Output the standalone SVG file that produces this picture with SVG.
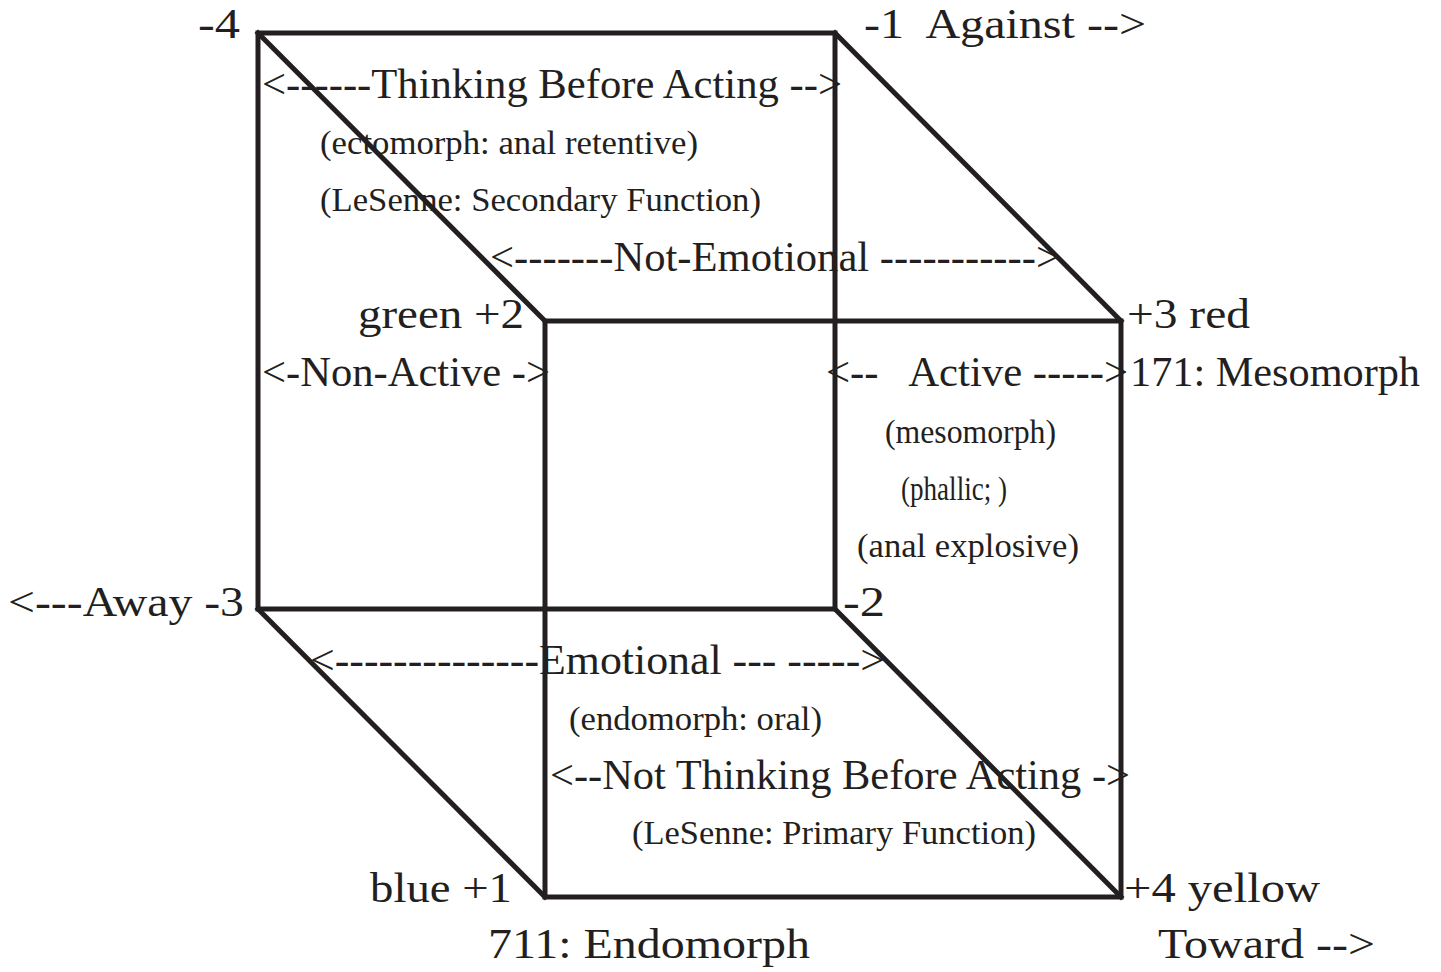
<svg xmlns="http://www.w3.org/2000/svg" width="1441" height="972" viewBox="0 0 1441 972">
<style>
text{font-family:"Liberation Serif","Times New Roman",serif;fill:#231f20;white-space:pre}
.L{font-size:42px}
.S{font-size:33px}
.edge{stroke:#231f20;stroke-width:5;fill:none;stroke-linejoin:miter;stroke-linecap:square}
</style>
<rect width="1441" height="972" fill="#ffffff"/>
<g id="connectors">
<rect class="edge" x="258" y="33" width="577" height="576"/>
<rect class="edge" x="545" y="321" width="576" height="576"/>
<line class="edge" x1="258" y1="33" x2="545" y2="321"/>
<line class="edge" x1="835" y1="33" x2="1121" y2="321"/>
<line class="edge" x1="258" y1="609" x2="545" y2="897"/>
<line class="edge" x1="835" y1="609" x2="1121" y2="897"/>
</g>
<g id="corner-m4"><text class="L" x="198" y="38" textLength="42" lengthAdjust="spacingAndGlyphs">-4</text></g>
<g id="corner-m1"><text class="L" x="864" y="38" textLength="282" lengthAdjust="spacingAndGlyphs">-1  Against --&gt;</text></g>
<g id="top-face">
<text class="L" x="262" y="98" textLength="580" lengthAdjust="spacingAndGlyphs">&lt;------Thinking Before Acting --&gt;</text>
<text class="S" x="320" y="154" textLength="378" lengthAdjust="spacingAndGlyphs">(ectomorph: anal retentive)</text>
<text class="S" x="320" y="211" textLength="441" lengthAdjust="spacingAndGlyphs">(LeSenne: Secondary Function)</text>
<text class="L" x="490" y="271" textLength="570" lengthAdjust="spacingAndGlyphs">&lt;-------Not-Emotional -----------&gt;</text>
</g>
<g id="corner-p2"><text class="L" x="358" y="328" textLength="166" lengthAdjust="spacingAndGlyphs">green +2</text></g>
<g id="corner-p3">
<text class="L" x="1127" y="328" textLength="123" lengthAdjust="spacingAndGlyphs">+3 red</text>
<text class="L" x="1130" y="386" textLength="290" lengthAdjust="spacingAndGlyphs">171: Mesomorph</text>
</g>
<g id="left-face"><text class="L" x="262" y="386" textLength="288" lengthAdjust="spacingAndGlyphs">&lt;-Non-Active -&gt;</text></g>
<g id="right-face">
<text class="L" x="826" y="386" textLength="302" lengthAdjust="spacingAndGlyphs">&lt;--   Active -----&gt;</text>
<text class="S" x="885" y="443" textLength="171" lengthAdjust="spacingAndGlyphs">(mesomorph)</text>
<text class="S" x="901" y="500" textLength="106" lengthAdjust="spacingAndGlyphs">(phallic; )</text>
<text class="S" x="857" y="557" textLength="222" lengthAdjust="spacingAndGlyphs">(anal explosive)</text>
</g>
<g id="corner-m3"><text class="L" x="8" y="616" textLength="236" lengthAdjust="spacingAndGlyphs">&lt;---Away -3</text></g>
<g id="corner-m2"><text class="L" x="843" y="616" textLength="42" lengthAdjust="spacingAndGlyphs">-2</text></g>
<g id="bottom-face">
<text class="L" x="310" y="674" textLength="575" lengthAdjust="spacingAndGlyphs">&lt;--------------Emotional --- -----&gt;</text>
<text class="S" x="569" y="730" textLength="253" lengthAdjust="spacingAndGlyphs">(endomorph: oral)</text>
<text class="L" x="550" y="789" textLength="580" lengthAdjust="spacingAndGlyphs">&lt;--Not Thinking Before Acting -&gt;</text>
<text class="S" x="632" y="844" textLength="404" lengthAdjust="spacingAndGlyphs">(LeSenne: Primary Function)</text>
</g>
<g id="corner-p1">
<text class="L" x="370" y="902" textLength="142" lengthAdjust="spacingAndGlyphs">blue +1</text>
<text class="L" x="488" y="958" textLength="322" lengthAdjust="spacingAndGlyphs">711: Endomorph</text>
</g>
<g id="corner-p4">
<text class="L" x="1124" y="902" textLength="196" lengthAdjust="spacingAndGlyphs">+4 yellow</text>
<text class="L" x="1158" y="958" textLength="217" lengthAdjust="spacingAndGlyphs">Toward --&gt;</text>
</g>
</svg>
